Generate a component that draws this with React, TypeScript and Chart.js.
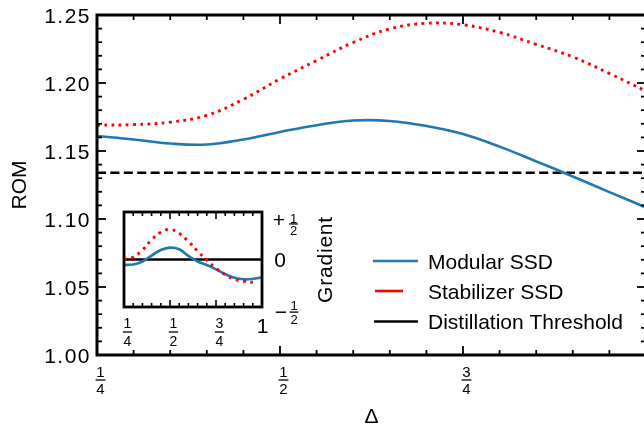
import React, { useEffect, useRef } from "react";
import { Chart, registerables } from "chart.js";

Chart.register(...registerables);

// ---------- main panel data ----------
const deltaValues = [0.25, 0.3, 0.35, 0.4, 0.45, 0.5, 0.55, 0.6, 0.65, 0.7, 0.75, 0.8, 0.85, 0.9, 0.95, 1.0];
const modularROM = [1.161, 1.1585, 1.1555, 1.1548, 1.1585, 1.164, 1.169, 1.1724, 1.1721, 1.1684, 1.1625, 1.1532, 1.1424, 1.1313, 1.1198, 1.1085];
const stabilizerROM = [1.169, 1.1694, 1.1712, 1.1762, 1.188, 1.203, 1.2165, 1.2298, 1.2398, 1.2439, 1.2428, 1.2372, 1.2284, 1.2192, 1.207, 1.194];
const thresholdDelta = [0.25, 1.0];
const thresholdROM = [1.134, 1.134];

const seriesLabels = ["Modular SSD", "Stabilizer SSD", "Distillation Threshold"];

const yMajorTicks = [1.0, 1.05, 1.1, 1.15, 1.2, 1.25];
const yTickLabels = ["1.00", "1.05", "1.10", "1.15", "1.20", "1.25"];
const xMajorTicks = [0.25, 0.5, 0.75, 1.0];
const xTickFractions = [["1", "4"], ["1", "2"], ["3", "4"], null];

// ---------- inset data ----------
const gradDelta = [0.25, 0.3, 0.35, 0.4, 0.45, 0.5, 0.55, 0.6, 0.65, 0.7, 0.75, 0.8, 0.85, 0.9, 0.95, 1.0];
const modularGrad = [-0.07, -0.062, -0.025, 0.05, 0.12, 0.15, 0.13, 0.045, -0.025, -0.07, -0.125, -0.185, -0.23, -0.25, -0.245, -0.225];
const stabilizerGradDelta = [0.25, 0.3, 0.35, 0.4, 0.45, 0.5, 0.55, 0.6, 0.65, 0.7, 0.75, 0.8, 0.85, 0.9, 0.95];
const stabilizerGrad = [0.0, 0.03, 0.12, 0.25, 0.345, 0.38, 0.33, 0.228, 0.105, -0.01, -0.11, -0.19, -0.25, -0.272, -0.29];
const zeroDelta = [0.25, 1.0];
const zeroGrad = [0, 0];
const insetXLabels = [["1", "4"], ["1", "2"], ["3", "4"], "1"];
const insetYTicks = [0.5, 0, -0.5];

const BLUE = "rgb(31,119,180)";
const RED = "rgb(255,0,0)";
const FONT = '"Liberation Sans", Arial, Helvetica, sans-serif';

const pts = (xs: number[], ys: number[]) => xs.map((x, i) => ({ x, y: ys[i] }));

function minorRange(a: number, b: number, step: number) {
  const out: number[] = [];
  const n = Math.round((b - a) / step);
  for (let i = 0; i <= n; i++) out.push(+(a + i * step).toFixed(4));
  return out;
}

function line(ctx: CanvasRenderingContext2D, x1: number, y1: number, x2: number, y2: number) {
  ctx.beginPath();
  ctx.moveTo(x1, y1);
  ctx.lineTo(x2, y2);
  ctx.stroke();
}

function fraction(ctx: CanvasRenderingContext2D, cx: number, barY: number, num: string, den: string, size: number, gap: number) {
  ctx.font = `${size}px ${FONT}`;
  ctx.textAlign = "center";
  ctx.textBaseline = "alphabetic";
  const capHalf = 0.358 * size;
  ctx.fillText(num, cx, barY - gap + capHalf);
  ctx.fillText(den, cx, barY + gap + capHalf);
  const w = Math.max(ctx.measureText(num).width, ctx.measureText(den).width) + 1.5;
  ctx.lineWidth = 1.3;
  line(ctx, cx - w / 2, barY, cx + w / 2, barY);
}

const mainDecor = {
  id: "mainDecor",
  afterDraw(chart: any) {
    const ctx: CanvasRenderingContext2D = chart.ctx;
    const { left, right, top, bottom } = chart.chartArea;
    const xs = chart.scales.x;
    const ys = chart.scales.y;
    ctx.save();
    ctx.strokeStyle = "#000";
    ctx.fillStyle = "#000";
    ctx.lineWidth = 1.8;
    for (const v of minorRange(0.25, 1.0, 0.05)) {
      const p = xs.getPixelForValue(v);
      const major = xMajorTicks.some((m) => Math.abs(m - v) < 1e-6);
      const len = major ? 9 : 5;
      line(ctx, p, bottom, p, bottom - len);
      line(ctx, p, top, p, top + len);
    }
    for (const v of minorRange(1.0, 1.25, 0.01)) {
      const p = ys.getPixelForValue(v);
      const major = yMajorTicks.some((m) => Math.abs(m - v) < 1e-6);
      const len = major ? 9 : 5;
      line(ctx, left, p, left + len, p);
      line(ctx, right, p, right - len, p);
    }
    ctx.lineWidth = 3;
    ctx.strokeRect(left, top, right - left, bottom - top);

    ctx.font = `21px ${FONT}`;
    ctx.textAlign = "right";
    ctx.textBaseline = "alphabetic";
    (ctx as any).letterSpacing = "1.5px";
    yMajorTicks.forEach((v, i) => {
      const p = ys.getPixelForValue(v);
      ctx.fillText(yTickLabels[i], left - 6, p + 0.358 * 21 + 0.5);
    });
    (ctx as any).letterSpacing = "0px";

    xMajorTicks.forEach((v, i) => {
      const f = xTickFractions[i];
      if (!f) return;
      const p = xs.getPixelForValue(v);
      fraction(ctx, p + 3.5, 380, f[0], f[1], 15, 8.3);
    });

    ctx.font = `21px ${FONT}`;
    ctx.textAlign = "center";
    ctx.fillText("Δ", (left + right) / 2, 415.5 + 0.358 * 21);
    ctx.save();
    ctx.translate(18.5, (top + bottom) / 2);
    ctx.rotate(-Math.PI / 2);
    ctx.fillText("ROM", 0, 0.358 * 21);
    ctx.restore();

    const rows = [261, 291, 321.5];
    const lens = [[373, 418], [375, 403], [374, 418]];
    chart.data.datasets.forEach((ds: any, i: number) => {
      ctx.strokeStyle = ds.borderColor;
      ctx.lineWidth = 2.6;
      ctx.setLineDash([]);
      line(ctx, lens[i][0], rows[i], lens[i][1], rows[i]);
      ctx.fillStyle = "#000";
      ctx.font = `21px ${FONT}`;
      ctx.textAlign = "left";
      ctx.fillText(ds.label, 428, rows[i] + 0.358 * 21);
    });
    ctx.restore();
  },
};

const insetDecor = {
  id: "insetDecor",
  afterDraw(chart: any) {
    const ctx: CanvasRenderingContext2D = chart.ctx;
    const { left, right, top, bottom } = chart.chartArea;
    const xs = chart.scales.x;
    const ys = chart.scales.y;
    ctx.save();
    ctx.strokeStyle = "#000";
    ctx.fillStyle = "#000";
    ctx.lineWidth = 1.6;
    const majors = [0.25, 0.5, 0.75, 1.0];
    for (const v of minorRange(0.25, 1.0, 0.05)) {
      const p = xs.getPixelForValue(v);
      const major = majors.some((m) => Math.abs(m - v) < 1e-6);
      const len = major ? 7 : 4;
      line(ctx, p, bottom, p, bottom - len);
      line(ctx, p, top, p, top + len);
    }
    ctx.lineWidth = 2.8;
    ctx.strokeRect(left, top, right - left, bottom - top);

    majors.forEach((v, i) => {
      const p = xs.getPixelForValue(v);
      const lab = insetXLabels[i];
      if (Array.isArray(lab)) {
        fraction(ctx, p + 3.5, 132, lab[0], lab[1], 14, 8.8);
      } else {
        ctx.font = `21px ${FONT}`;
        ctx.textAlign = "center";
        ctx.fillText(lab, p + 0.5, 125 + 0.358 * 21);
      }
    });

    const yp = insetYTicks.map((v) => ys.getPixelForValue(v));
    ctx.font = `21px ${FONT}`;
    ctx.textAlign = "center";
    ctx.fillText("+", 169, yp[0] + 0.33 * 21 + 0.5);
    fraction(ctx, 183.5, yp[0] + 4, "1", "2", 13, 6);
    ctx.font = `21px ${FONT}`;
    ctx.textAlign = "center";
    ctx.fillText("0", 170, yp[1] + 0.358 * 21);
    ctx.fillText("\u2212", 171, yp[2] + 14 + 0.3 * 21);
    fraction(ctx, 184, yp[2] + 13, "1", "2", 13, 7);

    ctx.save();
    ctx.translate(214, (top + bottom) / 2);
    ctx.rotate(-Math.PI / 2);
    ctx.font = `21px ${FONT}`;
    (ctx as any).letterSpacing = "0.8px";
    ctx.textAlign = "center";
    ctx.fillText("Gradient", 0, 0.358 * 21);
    ctx.restore();
    ctx.restore();
  },
};

export default function App() {
  const mainRef = useRef<HTMLCanvasElement>(null);
  const insetRef = useRef<HTMLCanvasElement>(null);

  useEffect(() => {
    const main = new Chart(mainRef.current!, {
      type: "line",
      data: {
        datasets: [
          {
            label: seriesLabels[0],
            data: pts(deltaValues, modularROM),
            borderColor: BLUE,
            borderWidth: 2.6,
            pointRadius: 0,
            tension: 0.4,
            fill: false,
          },
          {
            label: seriesLabels[1],
            data: pts(deltaValues, stabilizerROM),
            borderColor: RED,
            borderWidth: 2.9,
            borderDash: [2.8, 4.4],
            borderCapStyle: "butt",
            pointRadius: 0,
            tension: 0.4,
            fill: false,
          },
          {
            label: seriesLabels[2],
            data: pts(thresholdDelta, thresholdROM),
            borderColor: "#000",
            borderWidth: 2.6,
            borderDash: [9, 4.4],
            pointRadius: 0,
            fill: false,
          },
        ],
      },
      options: {
        responsive: false,
        animation: false,
        events: [],
        layout: { padding: { left: 97, right: 4, top: 15, bottom: 72 }, autoPadding: false } as any,
        plugins: { legend: { display: false }, tooltip: { enabled: false } },
        scales: {
          x: { type: "linear", min: 0.25, max: 1.0, display: false },
          y: { type: "linear", min: 1.0, max: 1.25, display: false },
        },
      },
      plugins: [mainDecor],
    });

    const inset = new Chart(insetRef.current!, {
      type: "line",
      data: {
        datasets: [
          {
            label: seriesLabels[1],
            data: pts(stabilizerGradDelta, stabilizerGrad),
            borderColor: RED,
            borderWidth: 2.9,
            borderDash: [2.8, 4.6],
            borderCapStyle: "butt",
            pointRadius: 0,
            tension: 0.4,
          },
          {
            label: seriesLabels[0],
            data: pts(gradDelta, modularGrad),
            borderColor: BLUE,
            borderWidth: 2.6,
            pointRadius: 0,
            tension: 0.4,
          },
          {
            label: seriesLabels[2],
            data: pts(zeroDelta, zeroGrad),
            borderColor: "#000",
            borderWidth: 2.6,
            pointRadius: 0,
          },
        ],
      },
      options: {
        responsive: false,
        animation: false,
        events: [],
        layout: { padding: { left: 14, right: 88, top: 12, bottom: 43 }, autoPadding: false } as any,
        plugins: { legend: { display: false }, tooltip: { enabled: false } },
        scales: {
          x: { type: "linear", min: 0.25, max: 1.0, display: false },
          y: { type: "linear", min: -0.6, max: 0.6, display: false },
        },
      },
      plugins: [insetDecor],
    });

    return () => {
      main.destroy();
      inset.destroy();
    };
  }, []);

  return (
    <div style={{ position: "absolute", left: 0, top: 0, width: 644, height: 427, overflow: "hidden", background: "#fff" }}>
      <canvas ref={mainRef} width={650} height={427} style={{ position: "absolute", left: 0, top: 0 }} />
      <canvas ref={insetRef} width={240} height={150} style={{ position: "absolute", left: 110, top: 200 }} />
    </div>
  );
}
